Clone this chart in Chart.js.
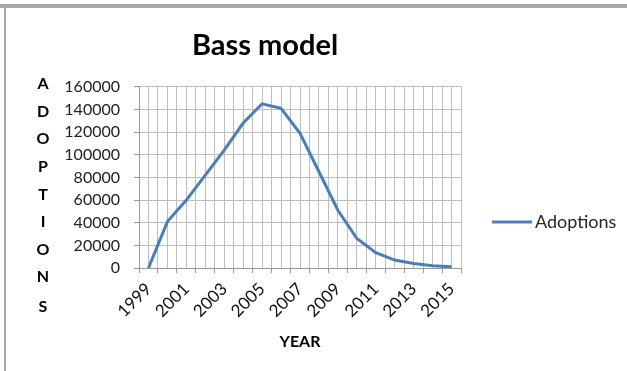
<!DOCTYPE html>
<html>
<head>
<meta charset="utf-8">
<script src="https://cdn.jsdelivr.net/npm/chart.js@4/dist/chart.umd.min.js"></script>
<style>
  html, body { margin: 0; padding: 0; background: #fff; }
  #wrap { width: 627px; height: 371px; position: relative; }
</style>
</head>
<body>
<div id="wrap"><canvas id="myChart" width="627" height="371"></canvas></div>
<script>
// values
var years = [1999, 2000, 2001, 2002, 2003, 2004, 2005, 2006, 2007, 2008, 2009, 2010, 2011, 2012, 2013, 2014, 2015];
var adoptions = [0, 41000, 60000, 82000, 104000, 128000, 145000, 141000, 119000, 85000, 51000, 26000, 13500, 7000, 4000, 2000, 1000];
var seriesName = 'Adoptions';
var chartTitle = 'Bass model';
var xTitle = 'YEAR';
var yTitle = 'ADOPTIONS';

var lineColor = '#4a7ebb';
var gridColor = '#bdbdbd';

// frame + white background
var framePlugin = {
    id: 'frame',
    beforeDraw: function(chart){
        var ctx = chart.ctx;
        ctx.save();
        ctx.fillStyle = '#fff';
        ctx.fillRect(0, 0, chart.width, chart.height);
        ctx.fillStyle = '#a8a8a8';
        ctx.fillRect(0, 4, chart.width, 4);
        ctx.fillRect(4, 4, 2, chart.height - 4);
        ctx.restore();
    }
};

// letters of the y title stacked one under another
var yTitlePlugin = {
    id: 'stackedYTitle',
    afterDraw: function(chart){
        var ctx = chart.ctx;
        ctx.save();
        ctx.font = 'bold 16px Lato';
        ctx.fillStyle = '#000';
        ctx.textAlign = 'center';
        ctx.textBaseline = 'middle';
        for (var i = 0; i < yTitle.length; i++) {
            var y = 84 + i * 27.6;
            if (i == yTitle.length - 1) y += 2;
            ctx.fillText(yTitle[i], 43, y);
        }
        ctx.restore();
    }
};

// legend on the right, like the excel one
var legendPlugin = {
    id: 'sideLegend',
    afterDraw: function(chart){
        var ctx = chart.ctx;
        var ds = chart.data.datasets[0];
        ctx.save();
        ctx.strokeStyle = ds.borderColor;
        ctx.lineWidth = 3;
        ctx.beginPath();
        ctx.moveTo(492, 222);
        ctx.lineTo(532, 222);
        ctx.stroke();
        ctx.font = '18px Lato';
        ctx.fillStyle = '#262626';
        ctx.textBaseline = 'middle';
        ctx.fillText(ds.label, 535, 222);
        ctx.restore();
    }
};

var ctx = document.getElementById('myChart').getContext('2d');
var myLineChart = new Chart(ctx, {
    type: 'line',
    data: {
        datasets: [{
            label: seriesName,
            data: years.map(function(y, i){ return {x: y, y: adoptions[i]}; }),
            borderColor: lineColor,
            backgroundColor: lineColor,
            borderWidth: 3,
            pointRadius: 0,
            tension: 0,
            fill: false
        }]
    },
    options: {
        responsive: false,
        animation: false,
        layout: { padding: { left: 6, right: 103, top: 4, bottom: 0 } },
        plugins: {
            legend: { display: false },
            tooltip: { enabled: false },
            title: {
                display: true,
                text: chartTitle,
                color: '#000',
                font: { family: 'Lato', size: 29, weight: 'bold' },
                padding: { top: 24, bottom: 24 }
            }
        },
        scales: {
            x: {
                type: 'linear',
                min: 1998.5,
                max: 2015.5,
                afterFit: function(scale){ scale.height = 103; },
                ticks: {
                    stepSize: 0.5,
                    autoSkip: false,
                    maxRotation: 45,
                    minRotation: 45,
                    padding: 6,
                    color: '#111',
                    font: { family: 'Lato', size: 17 },
                    callback: function(v){
                        return (v % 2 == 1) ? String(v) : '';
                    }
                },
                grid: {
                    color: gridColor,
                    lineWidth: 1,
                    tickLength: 5,
                    tickColor: function(c){
                        return (c.tick && c.tick.value % 1 != 0) ? '#999' : 'rgba(0,0,0,0)';
                    }
                },
                border: { color: '#999' },
                title: {
                    display: true,
                    text: xTitle,
                    color: '#000',
                    font: { family: 'Lato', size: 16, weight: 'bold' },
                    padding: { top: 0, bottom: 20 }
                }
            },
            y: {
                min: 0,
                max: 160000,
                afterFit: function(scale){ scale.width = 133; },
                ticks: {
                    stepSize: 20000,
                    autoSkip: false,
                    padding: 14,
                    color: '#222',
                    font: { family: 'Lato', size: 16 },
                    callback: function(v){ return String(v); }
                },
                grid: {
                    color: gridColor,
                    lineWidth: 1,
                    tickLength: 5,
                    tickColor: '#999'
                },
                border: { color: '#999' }
            },
            // empty right axis, only holds the room where the legend sits
            // so the title centre lands where excel put it
            yRoom: {
                position: 'right',
                min: 0,
                max: 160000,
                afterFit: function(scale){ scale.width = 63; },
                ticks: { display: false },
                grid: { display: false, drawOnChartArea: false },
                border: { display: false }
            }
        }
    },
    plugins: [framePlugin, yTitlePlugin, legendPlugin]
});
</script>
</body>
</html>
